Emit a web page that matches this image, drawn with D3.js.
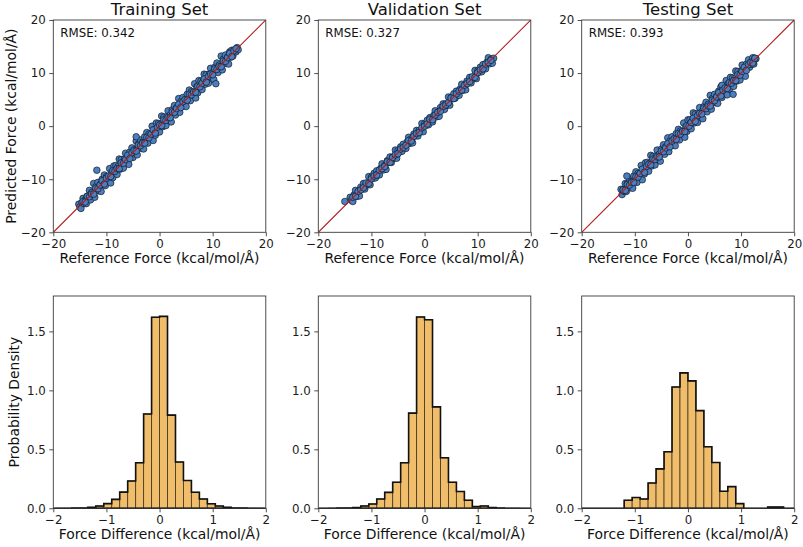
<!DOCTYPE html>
<html><head><meta charset="utf-8">
<script src="https://cdn.jsdelivr.net/npm/d3@7"></script>
<style>body{margin:0;background:#fff}svg{display:block}text{font-family:"DejaVu Sans",sans-serif}</style>
</head><body>
<svg id="c" width="803" height="547"></svg>
<script>
// ---------- DATA ----------
const panelTitles = ["Training Set", "Validation Set", "Testing Set"];
const rmseLabels = ["RMSE: 0.342", "RMSE: 0.327", "RMSE: 0.393"];
const scatterTicks = [-20, -10, 0, 10, 20];
const histXTicks = [-2, -1, 0, 1, 2];
const histYTicks = [0, 0.5, 1.0, 1.5];

const trainPoints = [[-15.2,-14.7],[-15.0,-15.2],[-14.8,-15.5],[-14.6,-14.4],[-14.4,-13.6],[-14.2,-14.6],[-14.0,-13.9],[-13.8,-14.6],[-13.6,-13.2],[-13.4,-13.5],[-13.2,-12.1],[-13.0,-13.9],[-12.8,-12.5],[-12.6,-13.1],[-12.4,-10.8],[-12.2,-13.4],[-12.0,-11.4],[-11.8,-12.0],[-11.6,-10.6],[-11.4,-12.2],[-11.2,-11.0],[-11.0,-12.3],[-10.8,-10.0],[-10.6,-11.0],[-10.4,-9.2],[-10.2,-11.2],[-10.0,-9.5],[-9.8,-9.8],[-9.6,-10.2],[-9.4,-8.0],[-9.2,-10.7],[-9.0,-8.7],[-8.8,-9.7],[-8.6,-7.5],[-8.4,-8.7],[-8.2,-7.4],[-8.0,-9.1],[-7.8,-7.6],[-7.6,-6.2],[-7.4,-8.1],[-7.2,-6.3],[-7.0,-7.3],[-6.8,-7.9],[-6.6,-6.2],[-6.4,-5.1],[-6.2,-6.9],[-6.0,-5.9],[-5.8,-7.2],[-5.6,-4.9],[-5.4,-5.5],[-5.2,-4.1],[-5.0,-5.9],[-4.8,-4.5],[-4.6,-5.1],[-4.4,-2.8],[-4.2,-5.4],[-4.0,-3.4],[-3.8,-4.0],[-3.6,-2.6],[-3.4,-4.2],[-3.2,-3.0],[-3.0,-4.3],[-2.8,-2.0],[-2.6,-3.0],[-2.4,-1.2],[-2.2,-3.2],[-2.0,-1.5],[-1.8,-1.8],[-1.6,-2.2],[-1.4,0.0],[-1.2,-2.7],[-1.0,-0.7],[-0.8,-1.7],[-0.6,0.6],[-0.4,-0.7],[-0.2,0.5],[0.0,-1.1],[0.2,0.4],[0.4,1.9],[0.6,-0.1],[0.8,1.7],[1.0,0.7],[1.2,0.1],[1.4,1.8],[1.6,2.9],[1.8,1.1],[2.0,2.1],[2.2,0.8],[2.4,3.1],[2.6,2.5],[2.8,3.9],[3.0,2.1],[3.2,3.5],[3.4,2.9],[3.6,5.2],[3.8,2.6],[4.0,4.6],[4.2,4.0],[4.4,5.4],[4.6,3.8],[4.8,5.0],[5.0,3.7],[5.2,6.0],[5.4,5.0],[5.6,6.8],[5.8,4.8],[6.0,6.5],[6.2,6.2],[6.4,5.8],[6.6,8.0],[6.8,5.3],[7.0,7.4],[7.2,6.3],[7.4,8.6],[7.6,7.3],[7.8,8.5],[8.0,6.9],[8.2,8.4],[8.4,9.8],[8.6,7.9],[8.8,9.7],[9.0,8.7],[9.2,8.1],[9.4,9.8],[9.6,10.9],[9.8,9.1],[10.0,10.1],[10.2,8.8],[10.4,11.1],[10.6,10.5],[10.8,11.9],[11.0,10.1],[11.2,11.5],[11.4,10.9],[11.6,13.2],[11.8,10.6],[12.0,12.6],[12.2,12.0],[12.4,13.4],[12.6,11.8],[12.8,13.0],[13.0,11.7],[13.2,14.0],[13.4,13.0],[13.6,14.3],[13.8,13.2],[14.0,14.3],[14.2,14.2],[14.4,14.0],[14.6,14.8],[14.8,14.4],[-11.8,-8.3],[-4.4,-2.0],[10.6,8.0],[-14.4,-14.2],[-14.0,-14.3],[-13.6,-13.2],[-13.2,-13.3],[-12.8,-12.8],[-12.4,-12.8],[-12.0,-11.7],[-11.6,-11.8],[-11.2,-11.1],[-10.8,-10.3],[-10.4,-10.9],[-10.0,-9.8],[-9.6,-9.4],[-9.2,-9.5],[-8.8,-8.4],[-8.4,-8.5],[-8.0,-8.0],[-7.6,-8.0],[-7.2,-6.9],[-6.8,-7.0],[-6.4,-6.3],[-6.0,-5.5],[-5.6,-6.1],[-5.2,-5.0],[-4.8,-4.6],[-4.4,-4.7],[-4.0,-3.6],[-3.6,-3.7],[-3.2,-3.2],[-2.8,-3.2],[-2.4,-2.1],[-2.0,-2.2],[-1.6,-1.5],[-1.2,-0.7],[-0.8,-1.3],[-0.4,-0.2],[0.0,0.2],[0.4,0.1],[0.8,1.2],[1.2,1.1],[1.6,1.6],[2.0,1.6],[2.4,2.7],[2.8,2.6],[3.2,3.3],[3.6,4.1],[4.0,3.5],[4.4,4.6],[4.8,5.0],[5.2,4.9],[5.6,6.0],[6.0,5.9],[6.4,6.4],[6.8,6.4],[7.2,7.5],[7.6,7.4],[8.0,8.1],[8.4,8.9],[8.8,8.3],[9.2,9.4],[9.6,9.8],[10.0,9.7],[10.4,10.8],[10.8,10.7],[11.2,11.2],[11.6,11.2],[12.0,12.3],[12.4,12.2],[12.8,12.9],[13.2,13.7],[13.6,13.1],[14.0,14.2],[14.4,14.6]];

const valPoints = [[-15.0,-14.2],[-14.0,-13.4],[-13.75,-13.95],[-13.5,-14.2],[-13.25,-12.95],[-13.0,-12.1],[-12.75,-13.25],[-12.5,-12.4],[-12.25,-13.15],[-12.0,-11.5],[-11.75,-11.85],[-11.5,-10.8],[-11.25,-11.85],[-11.0,-10.8],[-10.75,-11.05],[-10.5,-9.5],[-10.25,-11.05],[-10.0,-9.6],[-9.75,-9.85],[-9.5,-8.9],[-9.25,-9.75],[-9.0,-8.4],[-8.75,-8.95],[-8.5,-9.2],[-8.25,-7.95],[-8.0,-7.1],[-7.75,-8.25],[-7.5,-7.4],[-7.25,-8.15],[-7.0,-6.5],[-6.75,-6.85],[-6.5,-5.8],[-6.25,-6.85],[-6.0,-5.8],[-5.75,-6.05],[-5.5,-4.5],[-5.25,-6.05],[-5.0,-4.6],[-4.75,-4.85],[-4.5,-3.9],[-4.25,-4.75],[-4.0,-3.4],[-3.75,-3.95],[-3.5,-4.2],[-3.25,-2.95],[-3.0,-2.1],[-2.75,-3.25],[-2.5,-2.4],[-2.25,-3.15],[-2.0,-1.5],[-1.75,-1.85],[-1.5,-0.8],[-1.25,-1.85],[-1.0,-0.8],[-0.75,-1.05],[-0.5,0.5],[-0.25,-1.05],[0.0,0.4],[0.25,0.15],[0.5,1.1],[0.75,0.25],[1.0,1.6],[1.25,1.05],[1.5,0.8],[1.75,2.05],[2.0,2.9],[2.25,1.75],[2.5,2.6],[2.75,1.85],[3.0,3.5],[3.25,3.15],[3.5,4.2],[3.75,3.15],[4.0,4.2],[4.25,3.95],[4.5,5.5],[4.75,3.95],[5.0,5.4],[5.25,5.15],[5.5,6.1],[5.75,5.25],[6.0,6.6],[6.25,6.05],[6.5,5.8],[6.75,7.05],[7.0,7.9],[7.25,6.75],[7.5,7.6],[7.75,6.85],[8.0,8.5],[8.25,8.15],[8.5,9.2],[8.75,8.15],[9.0,9.2],[9.25,8.95],[9.5,10.5],[9.75,8.95],[10.0,10.4],[10.25,10.15],[10.5,11.1],[10.75,10.25],[11.0,11.6],[11.25,11.05],[11.5,10.8],[11.75,12.05],[12.0,12.9],[12.25,11.75],[12.5,12.6],[12.75,11.85],[13.0,12.8],[-13.5,-13.4],[-13.0,-13.2],[-12.5,-12.3],[-12.0,-12.0],[-11.5,-11.6],[-11.0,-10.7],[-10.5,-10.8],[-10.0,-9.9],[-9.5,-9.4],[-9.0,-9.2],[-8.5,-8.3],[-8.0,-8.0],[-7.5,-7.6],[-7.0,-6.7],[-6.5,-6.8],[-6.0,-5.9],[-5.5,-5.4],[-5.0,-5.2],[-4.5,-4.3],[-4.0,-4.0],[-3.5,-3.6],[-3.0,-2.7],[-2.5,-2.8],[-2.0,-1.9],[-1.5,-1.4],[-1.0,-1.2],[-0.5,-0.3],[0.0,0.0],[0.5,0.4],[1.0,1.3],[1.5,1.2],[2.0,2.1],[2.5,2.6],[3.0,2.8],[3.5,3.7],[4.0,4.0],[4.5,4.4],[5.0,5.3],[5.5,5.2],[6.0,6.1],[6.5,6.6],[7.0,6.8],[7.5,7.7],[8.0,8.0],[8.5,8.4],[9.0,9.3],[9.5,9.2],[10.0,10.1],[10.5,10.6],[11.0,10.8],[11.5,11.7],[12.0,12.0],[12.5,12.4]];

const testPoints = [[-12.6,-11.9],[-12.4,-12.9],[-12.2,-12.0],[-12.0,-12.3],[-11.8,-10.8],[-11.6,-12.3],[-11.4,-10.8],[-11.2,-11.4],[-11.0,-10.0],[-10.8,-11.6],[-10.6,-10.4],[-10.4,-11.7],[-10.2,-9.4],[-10.0,-10.4],[-9.8,-8.6],[-9.6,-10.6],[-9.4,-8.9],[-9.2,-9.2],[-9.0,-9.6],[-8.8,-7.4],[-8.6,-10.1],[-8.4,-8.1],[-8.2,-9.0],[-8.0,-6.9],[-7.8,-8.0],[-7.6,-6.8],[-7.4,-8.5],[-7.2,-7.0],[-7.0,-5.5],[-6.8,-7.5],[-6.6,-5.7],[-6.4,-6.7],[-6.2,-7.3],[-6.0,-5.6],[-5.8,-4.5],[-5.6,-6.3],[-5.4,-5.3],[-5.2,-6.6],[-5.0,-4.3],[-4.8,-4.9],[-4.6,-3.5],[-4.4,-5.3],[-4.2,-3.9],[-4.0,-4.5],[-3.8,-2.2],[-3.6,-4.8],[-3.4,-2.8],[-3.2,-3.4],[-3.0,-2.0],[-2.8,-3.6],[-2.6,-2.4],[-2.4,-3.7],[-2.2,-1.4],[-2.0,-2.4],[-1.8,-0.6],[-1.6,-2.6],[-1.4,-0.9],[-1.2,-1.2],[-1.0,-1.6],[-0.8,0.6],[-0.6,-2.1],[-0.4,-0.1],[-0.2,-1.0],[0.0,1.2],[0.2,0.0],[0.4,1.2],[0.6,-0.5],[0.8,1.0],[1.0,2.5],[1.2,0.6],[1.4,2.3],[1.6,1.3],[1.8,0.7],[2.0,2.4],[2.2,3.5],[2.4,1.7],[2.6,2.7],[2.8,1.4],[3.0,3.7],[3.2,3.1],[3.4,4.5],[3.6,2.7],[3.8,4.1],[4.0,3.5],[4.2,5.8],[4.4,3.2],[4.6,5.2],[4.8,4.6],[5.0,6.0],[5.2,4.4],[5.4,5.6],[5.6,4.3],[5.8,6.6],[6.0,5.6],[6.2,7.4],[6.4,5.4],[6.6,7.1],[6.8,6.8],[7.0,6.4],[7.2,8.6],[7.4,5.9],[7.6,8.0],[7.8,7.0],[8.0,9.2],[8.2,8.0],[8.4,9.1],[8.6,7.5],[8.8,9.0],[9.0,10.4],[9.2,8.5],[9.4,10.3],[9.6,9.3],[9.8,8.7],[10.0,10.4],[10.2,11.5],[10.4,9.7],[10.6,10.7],[10.8,9.4],[11.0,11.7],[11.2,11.1],[11.4,12.5],[11.6,11.1],[11.8,12.0],[12.0,11.7],[12.2,12.9],[12.4,11.7],[12.6,12.8],[12.8,12.7],[-11.5,-9.4],[6.4,7.7],[8.5,6.0],[-12.2,-12.0],[-11.8,-12.1],[-11.4,-11.0],[-11.0,-11.1],[-10.6,-10.6],[-10.2,-10.6],[-9.8,-9.5],[-9.4,-9.6],[-9.0,-8.9],[-8.6,-8.1],[-8.2,-8.7],[-7.8,-7.6],[-7.4,-7.2],[-7.0,-7.3],[-6.6,-6.2],[-6.2,-6.3],[-5.8,-5.8],[-5.4,-5.8],[-5.0,-4.7],[-4.6,-4.8],[-4.2,-4.1],[-3.8,-3.3],[-3.4,-3.9],[-3.0,-2.8],[-2.6,-2.4],[-2.2,-2.5],[-1.8,-1.4],[-1.4,-1.5],[-1.0,-1.0],[-0.6,-1.0],[-0.2,0.1],[0.2,0.0],[0.6,0.7],[1.0,1.5],[1.4,0.9],[1.8,2.0],[2.2,2.4],[2.6,2.3],[3.0,3.4],[3.4,3.3],[3.8,3.8],[4.2,3.8],[4.6,4.9],[5.0,4.8],[5.4,5.5],[5.8,6.3],[6.2,5.7],[6.6,6.8],[7.0,7.2],[7.4,7.1],[7.8,8.2],[8.2,8.1],[8.6,8.6],[9.0,8.6],[9.4,9.7],[9.8,9.6],[10.2,10.3],[10.6,11.1],[11.0,10.5],[11.4,11.6],[11.8,12.0],[12.2,11.9],[12.6,12.8]];

const binEdges = [-2.1,-1.95,-1.8,-1.65,-1.5,-1.35,-1.2,-1.05,-0.9,-0.75,-0.6,-0.45,-0.3,-0.15,0,0.15,0.3,0.45,0.6,0.75,0.9,1.05,1.2,1.35,1.5,1.65,1.8,1.95,2.1];
const trainDensity = [0,0.0005,0.001,0.002,0.003,0.008,0.019,0.040,0.076,0.137,0.232,0.386,0.80,1.62,1.627,0.79,0.392,0.236,0.136,0.079,0.038,0.019,0.008,0.003,0.002,0.001,0.0005,0];
const valDensity = [0,0,0.001,0.002,0.003,0.006,0.020,0.037,0.079,0.135,0.221,0.386,0.807,1.622,1.599,0.86,0.428,0.221,0.143,0.068,0.015,0.020,0.006,0.002,0.001,0.001,0,0];
const testDensity = [0,0,0,0,0,0,0.068,0.092,0.079,0.214,0.334,0.479,1.028,1.148,1.08,0.828,0.522,0.388,0.144,0.184,0.04,0,0,0,0.011,0.011,0,0];

const scatterSets = [trainPoints, valPoints, testPoints];
const densitySets = [trainDensity, valDensity, testDensity];

// ---------- LAYOUT ----------
const svg = d3.select("#c");
svg.append("rect").attr("width", 803).attr("height", 547).attr("fill", "#fff");
const lefts = [53.3, 318.3, 581.7];
const W = 212.5;
const topRow = {y0: 20, y1: 232.3};
const botRow = {y0: 296, y1: 508.3};
const spine = "#3a3a3a";
const pointFill = "#4a7fc1";
const pointEdge = "#10161f";
const lineColor = "#b01c1c";
const barFill = "#f0bd6a";
const tickFont = 11.8;
const labelFont = 13.9;

function styleAxis(g) {
  g.select(".domain").remove();
  g.selectAll(".tick line").attr("stroke", spine).attr("stroke-width", 0.9);
  g.selectAll(".tick text").attr("font-size", tickFont).attr("fill", "#1a1a1a")
    .attr("font-family", "DejaVu Sans, sans-serif");
}

const defs = svg.append("defs");

scatterSets.forEach((pts, i) => {
  const x0 = lefts[i];
  const x = d3.scaleLinear().domain([-20, 20]).range([x0, x0 + W]);
  const y = d3.scaleLinear().domain([-20, 20]).range([topRow.y1, topRow.y0]);
  const cid = "clipS" + i;
  defs.append("clipPath").attr("id", cid).append("rect")
    .attr("x", x0).attr("y", topRow.y0).attr("width", W).attr("height", topRow.y1 - topRow.y0);
  const g = svg.append("g");
  const plot = g.append("g").attr("clip-path", `url(#${cid})`);
  plot.selectAll("circle").data(pts).join("circle")
    .attr("cx", d => x(d[0])).attr("cy", d => y(d[1])).attr("r", 3.3)
    .attr("fill", pointFill).attr("stroke", pointEdge).attr("stroke-opacity", 0.9).attr("stroke-width", 0.75);
  plot.append("line")
    .attr("x1", x(-20)).attr("y1", y(-20)).attr("x2", x(20)).attr("y2", y(20))
    .attr("stroke", lineColor).attr("stroke-width", 1.1);
  const ax = g.append("g").attr("transform", `translate(0,${topRow.y1})`)
    .call(d3.axisBottom(x).tickValues(scatterTicks).tickSize(4).tickPadding(3.5));
  styleAxis(ax);
  const ay = g.append("g").attr("transform", `translate(${x0},0)`)
    .call(d3.axisLeft(y).tickValues(scatterTicks).tickSize(4).tickPadding(3.5));
  styleAxis(ay);
  g.append("rect").attr("x", x0).attr("y", topRow.y0).attr("width", W).attr("height", topRow.y1 - topRow.y0)
    .attr("fill", "none").attr("stroke", spine).attr("stroke-width", 0.9);
  g.append("text").attr("x", x0 + W / 2).attr("y", 15).attr("text-anchor", "middle")
    .attr("font-size", 16.5).attr("fill", "#111").text(panelTitles[i]);
  g.append("text").attr("x", x0 + 7).attr("y", 37).attr("font-size", 11.8).attr("fill", "#111").text(rmseLabels[i]);
  g.append("text").attr("x", x0 + W / 2).attr("y", 263).attr("text-anchor", "middle")
    .attr("font-size", labelFont).attr("fill", "#111").text("Reference Force (kcal/mol/Å)");
});

svg.append("text").attr("transform", `translate(16,${(topRow.y0 + topRow.y1) / 2}) rotate(-90)`)
  .attr("text-anchor", "middle").attr("font-size", labelFont).attr("fill", "#111").text("Predicted Force (kcal/mol/Å)");

densitySets.forEach((dens, i) => {
  const x0 = lefts[i];
  const x = d3.scaleLinear().domain([-2, 2]).range([x0, x0 + W]);
  const y = d3.scaleLinear().domain([0, 1.8]).range([botRow.y1, botRow.y0]);
  const cid = "clipH" + i;
  defs.append("clipPath").attr("id", cid).append("rect")
    .attr("x", x0).attr("y", botRow.y0 - 2).attr("width", W).attr("height", botRow.y1 - botRow.y0 + 4);
  const g = svg.append("g");
  const plot = g.append("g").attr("clip-path", `url(#${cid})`);
  const bins = dens.map((v, k) => ({x0: binEdges[k], x1: binEdges[k + 1], v}));
  plot.selectAll("rect.bar").data(bins.filter(b => b.v > 0)).join("rect").attr("class", "bar")
    .attr("x", b => x(b.x0)).attr("width", b => x(b.x1) - x(b.x0))
    .attr("y", b => y(b.v)).attr("height", b => y(0) - y(b.v))
    .attr("fill", barFill).attr("stroke", "#2b2218").attr("stroke-opacity", 0.75).attr("stroke-width", 0.9);
  let dpath = `M${x(bins[0].x0)},${y(0)}`;
  bins.forEach(b => { dpath += `L${x(b.x0)},${y(b.v)}L${x(b.x1)},${y(b.v)}`; });
  dpath += `L${x(bins[bins.length - 1].x1)},${y(0)}Z`;
  plot.append("path").attr("d", dpath).attr("fill", "none").attr("stroke", "#111").attr("stroke-width", 1.6)
    .attr("stroke-linejoin", "miter");
  const ax = g.append("g").attr("transform", `translate(0,${botRow.y1})`)
    .call(d3.axisBottom(x).tickValues(histXTicks).tickFormat(d3.format("d")).tickSize(4).tickPadding(3.5));
  styleAxis(ax);
  const ay = g.append("g").attr("transform", `translate(${x0},0)`)
    .call(d3.axisLeft(y).tickValues(histYTicks).tickFormat(d3.format(".1f")).tickSize(4).tickPadding(3.5));
  styleAxis(ay);
  g.append("rect").attr("x", x0).attr("y", botRow.y0).attr("width", W).attr("height", botRow.y1 - botRow.y0)
    .attr("fill", "none").attr("stroke", spine).attr("stroke-width", 0.9);
  g.append("text").attr("x", x0 + W / 2).attr("y", 539).attr("text-anchor", "middle")
    .attr("font-size", labelFont).attr("fill", "#111").text("Force Difference (kcal/mol/Å)");
});

svg.append("text").attr("transform", `translate(19,${(botRow.y0 + botRow.y1) / 2}) rotate(-90)`)
  .attr("text-anchor", "middle").attr("font-size", labelFont).attr("fill", "#111").text("Probability Density");
</script>
</body></html>
